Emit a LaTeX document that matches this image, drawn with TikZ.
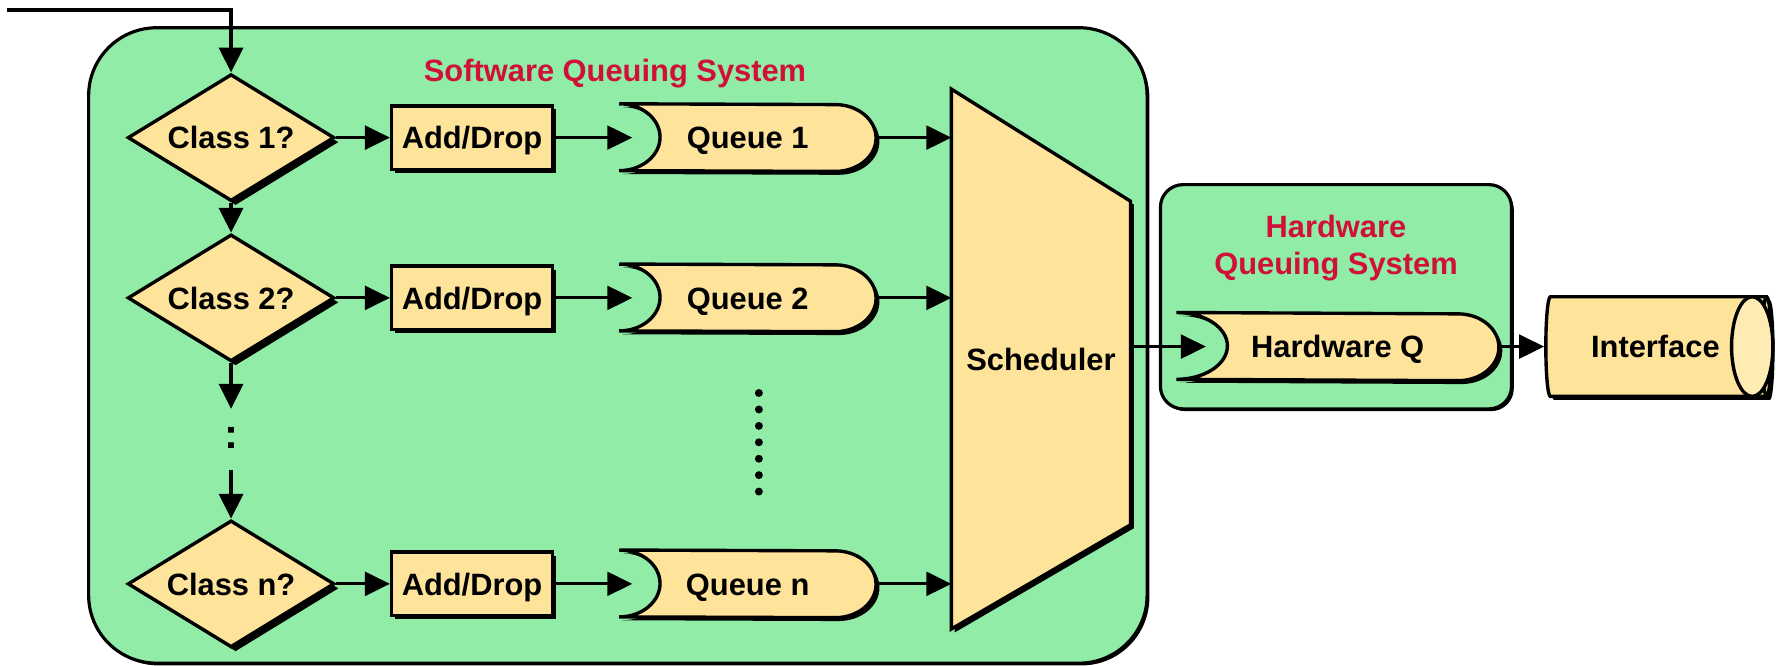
\documentclass[tikz,border=0pt]{standalone}
\usepackage{fontspec}
\setmainfont{Liberation Sans}
\usepackage{tikz}
\usetikzlibrary{positioning,shapes.geometric,shadows,arrows.meta,backgrounds}
\definecolor{boxgreen}{RGB}{144,236,166}
\definecolor{partfill}{RGB}{254,227,155}
\definecolor{endfill}{RGB}{255,236,178}
\definecolor{titlered}{RGB}{208,16,56}
\tikzset{
  every node/.style={font=\bfseries\fontsize{15.5}{18.5}\selectfont},
  blackshadow/.style={drop shadow={shadow xshift=#1,shadow yshift=-#1,fill=black,opacity=1}},
  blackshadow/.default=0.06cm,
  lbl/.style={text height=11.2pt,text depth=0pt},
  classbox/.style={diamond,draw,line width=1.7pt,fill=partfill,inner sep=0pt,shape aspect=1.63,
    minimum width=3.65cm,minimum height=2.24cm,lbl,blackshadow=0.08cm},
  dropbox/.style={rectangle,draw,line width=1.7pt,fill=partfill,inner sep=0pt,
    minimum width=2.84cm,minimum height=1.12cm,lbl,blackshadow},
  queue/.style={rectangle,inner sep=0pt,minimum width=4.52cm,minimum height=1.18cm,lbl},
  qline/.style={draw,line width=1.7pt,fill=partfill,blackshadow},
  schedbox/.style={rectangle,inner sep=0pt,minimum width=3.15cm,minimum height=9.52cm,lbl},
  iface/.style={cylinder,draw,line width=1.7pt,fill=partfill,shape aspect=0.41,
    minimum width=1.76cm,minimum height=3.98cm,inner sep=0pt,lbl,blackshadow},
  sysbox/.style={rectangle,draw,line width=1.6pt,fill=boxgreen,rounded corners=#1,blackshadow=0.04cm},
  systitle/.style={text=titlered,align=center},
  flow/.style={line width=1.4pt,-{Triangle[length=0.44cm,width=0.42cm]}},
  downflow/.style={flow,line width=2pt},
}

\begin{document}
\begin{tikzpicture}
    \useasboundingbox (0,0) rectangle (31.36,-11.76);
    % classifier column
    \coordinate (in) at (0.13,-0.177);
    \node[classbox] (c1) at (4.08,-2.43) {Class 1?};
    \node[classbox,below=0.53cm of c1] (c2) {Class 2?};
    \node[classbox,below=2.75cm of c2] (cn) {Class n?};
    \coordinate[below=0.81cm of c2.south] (gapA);
    \coordinate[above=0.86cm of cn.north] (gapB);
    \node[font=\bfseries\fontsize{21}{21}\selectfont] (more) at (4.08,-7.74) {:};
    % per class rows
    \foreach \r in {1,2,n} {
      \node[dropbox,right=0.95cm of c\r] (ad\r) {Add/Drop};
      \node[queue,right=1.15cm of ad\r] (q\r) {Queue \r};
    }
    \node[schedbox] (sched) at (18.38,-6.34) {Scheduler};
    \node[queue,minimum width=5.68cm,minimum height=1.19cm] (hwq) at (23.62,-6.12) {Hardware Q};
    \node[iface] (iface) at (29.23,-6.12) {Interface};
    \draw[line width=1.7pt,fill=endfill] ([xshift=-0.365cm]iface.top) ellipse [x radius=0.365cm,y radius=0.88cm];
    \node[systitle,anchor=base] (swtitle) at (10.86,-1.44) {Software Queuing System};
    \node[systitle] (hwtitle) at (23.59,-4.38) {Hardware\\Queuing System};
    \foreach \k in {0,...,6}
      \fill (13.4,{-6.94-0.29*\k}) circle (0.07cm);
    % boxes and outlines below the text
    \begin{scope}[on background layer]
      \node[sysbox=1.2cm,minimum width=18.69cm,minimum height=11.22cm] (sw) at (10.91,-6.1) {};
      \node[sysbox=0.4cm,minimum width=6.2cm,minimum height=3.96cm] (hw) at (23.59,-5.24) {};
      \foreach \q/\d in {q1/0.72cm,q2/0.72cm,qn/0.72cm,hwq/0.9cm}
        \draw[qline] (\q.north west) arc[start angle=90,end angle=-90,x radius=\d,y radius=0.59cm]
          -- ([xshift=-0.72cm]\q.south east) arc[start angle=-90,end angle=90,x radius=0.72cm,y radius=0.59cm]
          -- cycle;
      \draw[qline] (sched.north west) -- ([yshift=-1.98cm]sched.north east)
        -- ([yshift=1.84cm]sched.south east) -- (sched.south west) -- cycle;
    \end{scope}
    % connectors
    \draw[downflow] (in) -| (c1.north);
    \draw[downflow] (c1.south) -- (c2.north);
    \draw[downflow] (c2.south) -- (gapA);
    \draw[downflow] (gapB) -- (cn.north);
    \foreach \r in {1,2,n} {
      \draw[flow] (c\r.east) -- (ad\r.west);
      \draw[flow] (ad\r.east) -- ([xshift=0.23cm]q\r.west);
      \draw[flow] (q\r.east) -- (q\r.east -| sched.west);
    }
    \draw[flow] (hwq.west -| sched.east) -- ([xshift=0.52cm]hwq.west);
    \draw[flow] (hwq.east) -- (iface.west);
\end{tikzpicture}
\end{document}
